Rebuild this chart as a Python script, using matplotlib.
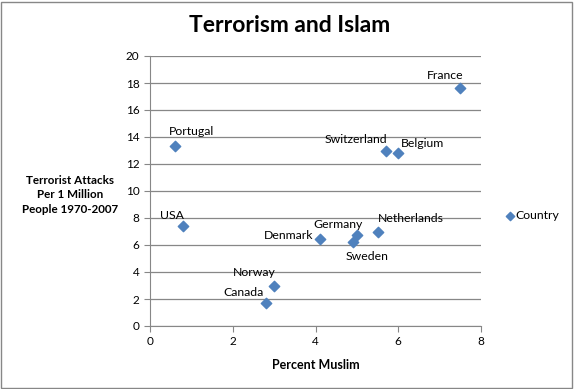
import matplotlib.pyplot as plt
from matplotlib.patches import Rectangle

plt.rcParams['font.family'] = ['Lato', 'DejaVu Sans']

countries = ['France', 'Portugal', 'Switzerland', 'Belgium', 'USA', 'Denmark',
             'Germany', 'Sweden', 'Netherlands', 'Norway', 'Canada']
pct_muslim = [7.5, 0.6, 5.7, 6.0, 0.8, 4.1, 5.0, 4.9, 5.5, 3.0, 2.8]
attacks = [17.6, 13.3, 13.0, 12.8, 7.4, 6.45, 6.75, 6.2, 7.0, 3.0, 1.7]
# label offsets in pixels (dx, dy)
offsets = [(-15, 13), (17, 15), (-30, 11), (24, 10), (-11, 11), (-31, 3),
           (-19, 10), (14, -14), (33, 13), (-20, 13), (-22, 11)]

fig = plt.figure(figsize=(5.74, 3.89), dpi=100)
ax = fig.add_axes([150/574, 1-326/389, 331/574, 270/389])

ax.scatter(pct_muslim, attacks, marker='D', s=28, color='#4F81BD',
           zorder=3, label='Country')
for name, x, y, off in zip(countries, pct_muslim, attacks, offsets):
    ax.annotate(name, (x, y), xytext=off, textcoords='offset pixels',
                ha='center', va='center', fontsize=8.8, color='#000000')

ax.set_xlim(0, 8)
ax.set_ylim(0, 20)
ax.set_xticks(range(0, 9, 2))
ax.set_yticks(range(0, 21, 2))
ax.yaxis.grid(True, color='#878787', linewidth=0.9)
ax.set_axisbelow(True)
for s in ['top', 'right']:
    ax.spines[s].set_visible(False)
for s in ['left', 'bottom']:
    ax.spines[s].set_color('#878787')
ax.tick_params(colors='#878787', labelcolor='#000000', labelsize=8.5,
               length=4, direction='out')

fig.text(290/574, 1-25/389, 'Terrorism and Islam', ha='center', va='center',
         fontsize=16.5, fontweight='bold')
fig.text(70/574, 1-195/389, 'Terrorist Attacks\nPer 1 Million\nPeople 1970-2007',
         ha='center', va='center', fontsize=8.4, fontweight='bold',
         linespacing=1.35)
ax.set_xlabel('Percent Muslim', fontsize=9, fontweight='bold', labelpad=8)

ax.legend(loc='center left', bbox_to_anchor=(1.035, 0.41), frameon=False,
          fontsize=8.8, handletextpad=0.0, handlelength=1, scatterpoints=1,
          markerscale=0.8)

fig.patches.append(Rectangle((0.002, 0.003), 0.995, 0.993, transform=fig.transFigure,
                             fill=False, edgecolor='#878787', linewidth=1))

fig.savefig('out.png', dpi=100)
